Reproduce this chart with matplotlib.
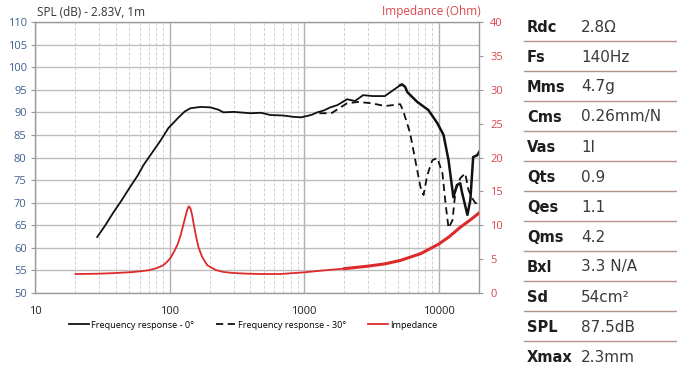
import matplotlib
matplotlib.use("Agg")
import matplotlib.pyplot as plt
from matplotlib.lines import Line2D
from matplotlib.ticker import FixedLocator, NullFormatter, FixedFormatter

# ---- data ----
freq_0 = [29, 33, 38, 44, 51, 58, 64, 72, 86, 98, 117, 130, 143, 170, 201, 230, 252, 300,
          399, 480, 563, 700, 833, 950, 1060, 1150, 1255, 1400, 1570, 1770, 2090, 2390,
          2750, 3260, 3990, 4600, 5190, 5350, 5660, 5850, 6950, 8410, 9800, 10900, 11870,
          12900, 13700, 14500, 14950, 16400, 17250, 18100, 19400, 20000]
spl_0 = [62.4, 64.8, 67.7, 70.5, 73.5, 76.0, 78.3, 80.5, 83.8, 86.5, 88.9, 90.2, 90.9,
         91.2, 91.1, 90.6, 90.0, 90.1, 89.8, 89.9, 89.4, 89.3, 89.0, 88.9, 89.2, 89.5,
         90.0, 90.4, 91.1, 91.6, 92.9, 92.5, 93.8, 93.6, 93.6, 94.9, 96.0, 96.2, 95.6,
         94.5, 92.3, 90.5, 87.6, 85.0, 79.4, 71.2, 73.9, 74.3, 72.3, 67.3, 70.6, 80.1,
         80.5, 81.2]

freq_30 = [1300, 1440, 1620, 1800, 2090, 2530, 3200, 3990, 4600, 5190, 5440, 6150, 6720,
           7350, 7740, 8250, 9000, 9800, 10700, 11270, 11870, 12700, 13400, 14500, 15800,
           16700, 17800, 18800, 19700, 20000]
spl_30 = [89.8, 89.8, 89.9, 90.8, 92.0, 92.3, 92.0, 91.4, 91.6, 91.8, 90.5, 85.4, 79.4,
          73.4, 71.7, 76.1, 79.4, 79.9, 76.5, 69.9, 64.4, 66.1, 72.8, 75.4, 76.5, 72.8,
          71.0, 69.9, 70.0, 70.6]

freq_z = [20, 30, 40, 54, 70, 81, 90, 96, 102, 110, 115, 120, 125, 131, 135, 139, 143,
          147, 151, 157, 164, 175, 191, 220, 252, 300, 379, 500, 666, 1000, 1520, 2000,
          2950, 4000, 5190, 7350, 10000, 12000, 14500, 17000, 20000]
imp_z = [2.8, 2.85, 2.95, 3.1, 3.35, 3.7, 4.1, 4.6, 5.2, 6.4, 7.2, 8.3, 9.6, 11.2, 12.2,
         12.8, 12.5, 11.6, 10.3, 8.5, 6.8, 5.3, 4.1, 3.4, 3.1, 2.95, 2.85, 2.8, 2.8, 3.05,
         3.4, 3.6, 3.95, 4.3, 4.8, 5.8, 7.2, 8.3, 9.7, 10.7, 11.8]

spl_ticks = list(range(50, 111, 5))
imp_ticks = list(range(0, 41, 5))
freq_major = [10, 100, 1000, 10000]
freq_labels = ["10", "100", "1000", "10000"]

param_names = ["Rdc", "Fs", "Mms", "Cms", "Vas", "Qts", "Qes", "Qms", "Bxl", "Sd", "SPL", "Xmax"]
param_values = ["2.8Ω", "140Hz", "4.7g", "0.26mm/N", "1l", "0.9", "1.1", "4.2", "3.3 N/A",
                "54cm²", "87.5dB", "2.3mm"]

# ---- figure ----
W, H = 677, 366
fig = plt.figure(figsize=(W / 100, H / 100), dpi=100)
plt.rcParams['font.family'] = ['Open Sans', 'DejaVu Sans']

L, R, T, B = 35, 479, 22, 293
ax = fig.add_axes([L / W, 1 - B / H, (R - L) / W, (B - T) / H])
ax.set_xscale('log')
ax.set_xlim(10, 20000)
ax.set_ylim(50, 110)

minor = [m * 10 ** d for d in range(1, 5) for m in range(2, 10) if m * 10 ** d < 20000]
ax.xaxis.set_major_locator(FixedLocator(freq_major))
ax.xaxis.set_major_formatter(FixedFormatter(freq_labels))
ax.xaxis.set_minor_locator(FixedLocator(minor))
ax.xaxis.set_minor_formatter(NullFormatter())
ax.set_yticks(spl_ticks)

ax.grid(True, which='major', axis='y', color='#bdbdbd', lw=1.0, ls='-')
ax.grid(True, which='major', axis='x', color='#b0b0b0', lw=1.0, ls='-')
ax.grid(True, which='minor', axis='x', color='#cfcfcf', lw=0.7, ls=(0, (3, 2)))
ax.set_axisbelow(True)

for s in ax.spines.values():
    s.set_color('#9a9a9a')
    s.set_linewidth(1.0)

ax.tick_params(axis='y', which='major', length=3, color='#9a9a9a', labelsize=8,
               labelcolor='#3f5f8f', pad=3)
ax.tick_params(axis='x', which='major', length=0, labelsize=8, labelcolor='#222222', pad=9)
ax.tick_params(axis='x', which='minor', length=0)

n0 = sum(1 for f in freq_0 if f <= 5000)
ax.plot(freq_0[:n0 + 1], spl_0[:n0 + 1], color='#111111', lw=1.3)
ax.plot(freq_0[n0:], spl_0[n0:], color='#111111', lw=1.8)
ax.plot(freq_30, spl_30, color='#111111', lw=1.3, ls=(0, (4, 2.5)))

ax2 = ax.twinx()
ax2.set_ylim(0, 40)
ax2.set_yticks(imp_ticks)
ax2.tick_params(axis='y', length=3, color='#9a9a9a', labelsize=8, labelcolor='#d9474b', pad=5)
for s in ax2.spines.values():
    s.set_visible(False)
nz = sum(1 for f in freq_z if f <= 2000)
ax2.plot(freq_z[:nz], imp_z[:nz], color='#dd2b2b', lw=1.3)
ax2.plot(freq_z[nz - 1:], imp_z[nz - 1:], color='#dd2b2b', lw=2.2)

fig.text(37 / W, 1 - 12 / H, "SPL (dB) - 2.83V, 1m", fontsize=8.5, color='#333333',
         ha='left', va='center')
fig.text(481 / W, 1 - 12 / H, "Impedance (Ohm)", fontsize=8.5, color='#d9474b',
         ha='right', va='center')

h0 = Line2D([], [], color='#111111', lw=1.3)
h30 = Line2D([], [], color='#111111', lw=1.3, ls=(0, (4, 2.5)))
hz = Line2D([], [], color='#dd2b2b', lw=1.3)
fig.legend([h0, h30, hz],
           ["Frequency response - 0°", "Frequency response - 30°", "Impedance"],
           loc='center', bbox_to_anchor=(253 / W, 1 - 325 / H), ncol=3, frameon=False,
           fontsize=6.6, handlelength=2.2, handletextpad=0.2, columnspacing=2.4)

# ---- parameter table ----
for i, (n, v) in enumerate(zip(param_names, param_values)):
    yc = 27 + 30 * i
    fig.text(527 / W, 1 - yc / H, n, fontsize=10.5, fontweight='bold', color='#1e1e1e',
             ha='left', va='center', family='DejaVu Sans')
    fig.text(581 / W, 1 - yc / H, v, fontsize=11, color='#3a3a3a', ha='left',
             va='center', family='DejaVu Sans')
    if i < len(param_names) - 1:
        yl = 1 - (yc + 14) / H
        fig.add_artist(Line2D([524 / W, 1.0], [yl, yl], color='#b39486', lw=1.0,
                              transform=fig.transFigure))

fig.savefig("out.png", dpi=100)
